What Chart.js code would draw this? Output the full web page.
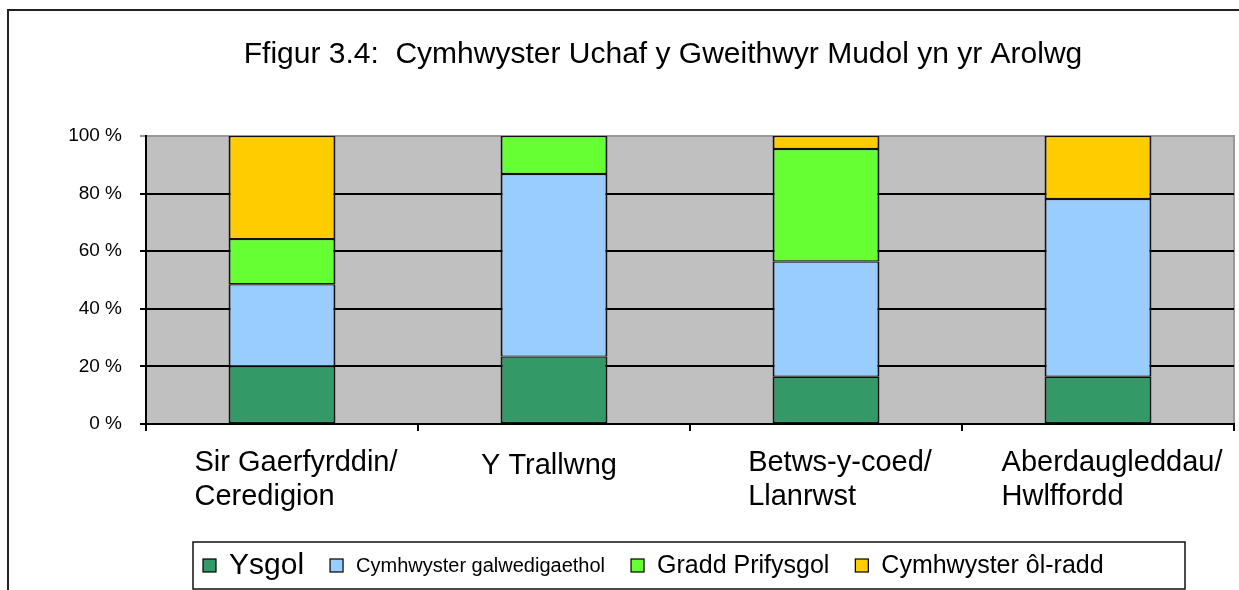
<!DOCTYPE html>
<html>
<head>
<meta charset="utf-8">
<script src="https://cdn.jsdelivr.net/npm/chart.js@4/dist/chart.umd.min.js"></script>
<style>
  body { margin: 0; background: #fff; }
</style>
</head>
<body>
<canvas id="chart" width="1239" height="590"></canvas>
<script>
// data (percent of each area)
const regions = [['Sir Gaerfyrddin/', 'Ceredigion'], ['Y Trallwng'], ['Betws-y-coed/', 'Llanrwst'], ['Aberdaugleddau/', 'Hwlffordd']];
const seriesNames = ['Ysgol', 'Cymhwyster galwedigaethol', 'Gradd Prifysgol', 'Cymhwyster ôl-radd'];
const ysgol = [20, 23.4, 16.4, 16.4];
const galwedigaethol = [28.5, 63.4, 40, 61.7];
const graddPrifysgol = [15.7, 13.2, 39.1, 0];
const olRadd = [35.8, 0, 4.5, 21.9];
const yTicks = [0, 20, 40, 60, 80, 100];
const chartTitle = 'Ffigur 3.4:  Cymhwyster Uchaf y Gweithwyr Mudol yn yr Arolwg';

const colors = ['#339966', '#99ccff', '#66ff33', '#ffcc00'];
const legendFontSizes = [30, 20, 25, 25];
const FONT = '"Liberation Sans", Arial, sans-serif';

const frame = {
  id: 'frame',
  beforeDraw(chart) {
    const { ctx, chartArea: a } = chart;
    ctx.save();
    ctx.strokeStyle = '#222';
    ctx.lineWidth = 2;
    ctx.strokeRect(8, 10, 1300, 700);
    ctx.fillStyle = '#c0c0c0';
    ctx.fillRect(a.left, a.top, a.right - a.left, a.bottom - a.top);
    ctx.strokeStyle = '#999';
    ctx.lineWidth = 2;
    ctx.strokeRect(a.left, a.top, a.right - a.left, a.bottom - a.top);
    ctx.restore();
  },
  afterDraw(chart) {
    const { ctx } = chart;
    const x = chart.scales.x;
    ctx.save();
    ctx.fillStyle = '#000';

    // title
    ctx.font = '30px ' + FONT;
    ctx.textAlign = 'center';
    ctx.textBaseline = 'middle';
    ctx.fillText(chartTitle, 663, 55);

    // category labels, lines left aligned like the original
    ctx.font = '29px ' + FONT;
    ctx.textBaseline = 'alphabetic';
    regions.forEach((lines, i) => {
      const c = x.getPixelForValue(i);
      if (lines.length === 1) {
        ctx.textAlign = 'center';
        ctx.fillText(lines[0], c - 5, 474);
        return;
      }
      const w = ctx.measureText(lines[0]).width;
      ctx.textAlign = 'left';
      lines.forEach((t, j) => ctx.fillText(t, c - w / 2 + 14, 471 + j * 34));
    });

    // legend box
    ctx.strokeStyle = '#111';
    ctx.lineWidth = 1.5;
    ctx.strokeRect(193, 542, 992, 47);
    let px = 203;
    const cy = 566;
    chart.data.datasets.forEach((ds, i) => {
      ctx.fillStyle = ds.backgroundColor;
      ctx.fillRect(px, cy - 7, 13, 13);
      ctx.strokeStyle = '#000';
      ctx.lineWidth = 1.2;
      ctx.strokeRect(px, cy - 7, 13, 13);
      ctx.fillStyle = '#000';
      ctx.font = legendFontSizes[i] + 'px ' + FONT;
      ctx.textAlign = 'left';
      ctx.textBaseline = 'middle';
      ctx.fillText(ds.label, px + 26, cy);
      px += 26 + ctx.measureText(ds.label).width + 26;
    });
    ctx.restore();
  }
};

const values = [ysgol, galwedigaethol, graddPrifysgol, olRadd];

new Chart(document.getElementById('chart'), {
  type: 'bar',
  data: {
    labels: regions,
    datasets: seriesNames.map((name, i) => ({
      label: name,
      data: values[i],
      backgroundColor: colors[i],
      borderColor: '#111',
      borderWidth: { left: 2, right: 2, top: 1.2, bottom: 1.2 },
      borderSkipped: false,
      inflateAmount: 0,
      barPercentage: 0.393,
      categoryPercentage: 1
    }))
  },
  options: {
    responsive: false,
    animation: false,
    layout: { padding: { left: 60, right: 5, top: 136, bottom: 159 } },
    plugins: {
      legend: { display: false },
      tooltip: { enabled: false },
      title: { display: false }
    },
    scales: {
      x: {
        stacked: true,
        border: { display: true, color: '#000', width: 2 },
        grid: { offset: true, drawOnChartArea: false, drawTicks: true, tickLength: 7, color: '#000', lineWidth: 2 },
        ticks: { display: false },
        afterFit(s) { s.height = 7; }
      },
      y: {
        stacked: true,
        min: 0,
        max: 100,
        border: { display: true, color: '#000', width: 2 },
        grid: {
          color: c => (c.tick && c.tick.value === 100 ? '#999' : '#000'),
          lineWidth: 2,
          tickLength: 6
        },
        afterBuildTicks(s) { s.ticks = yTicks.map(v => ({ value: v })); },
        ticks: {
          color: '#000',
          padding: 18,
          font: { family: FONT, size: 19 },
          callback: v => v + ' %'
        },
        afterFit(s) { s.width = 86; }
      }
    }
  },
  plugins: [frame]
});
</script>
</body>
</html>
